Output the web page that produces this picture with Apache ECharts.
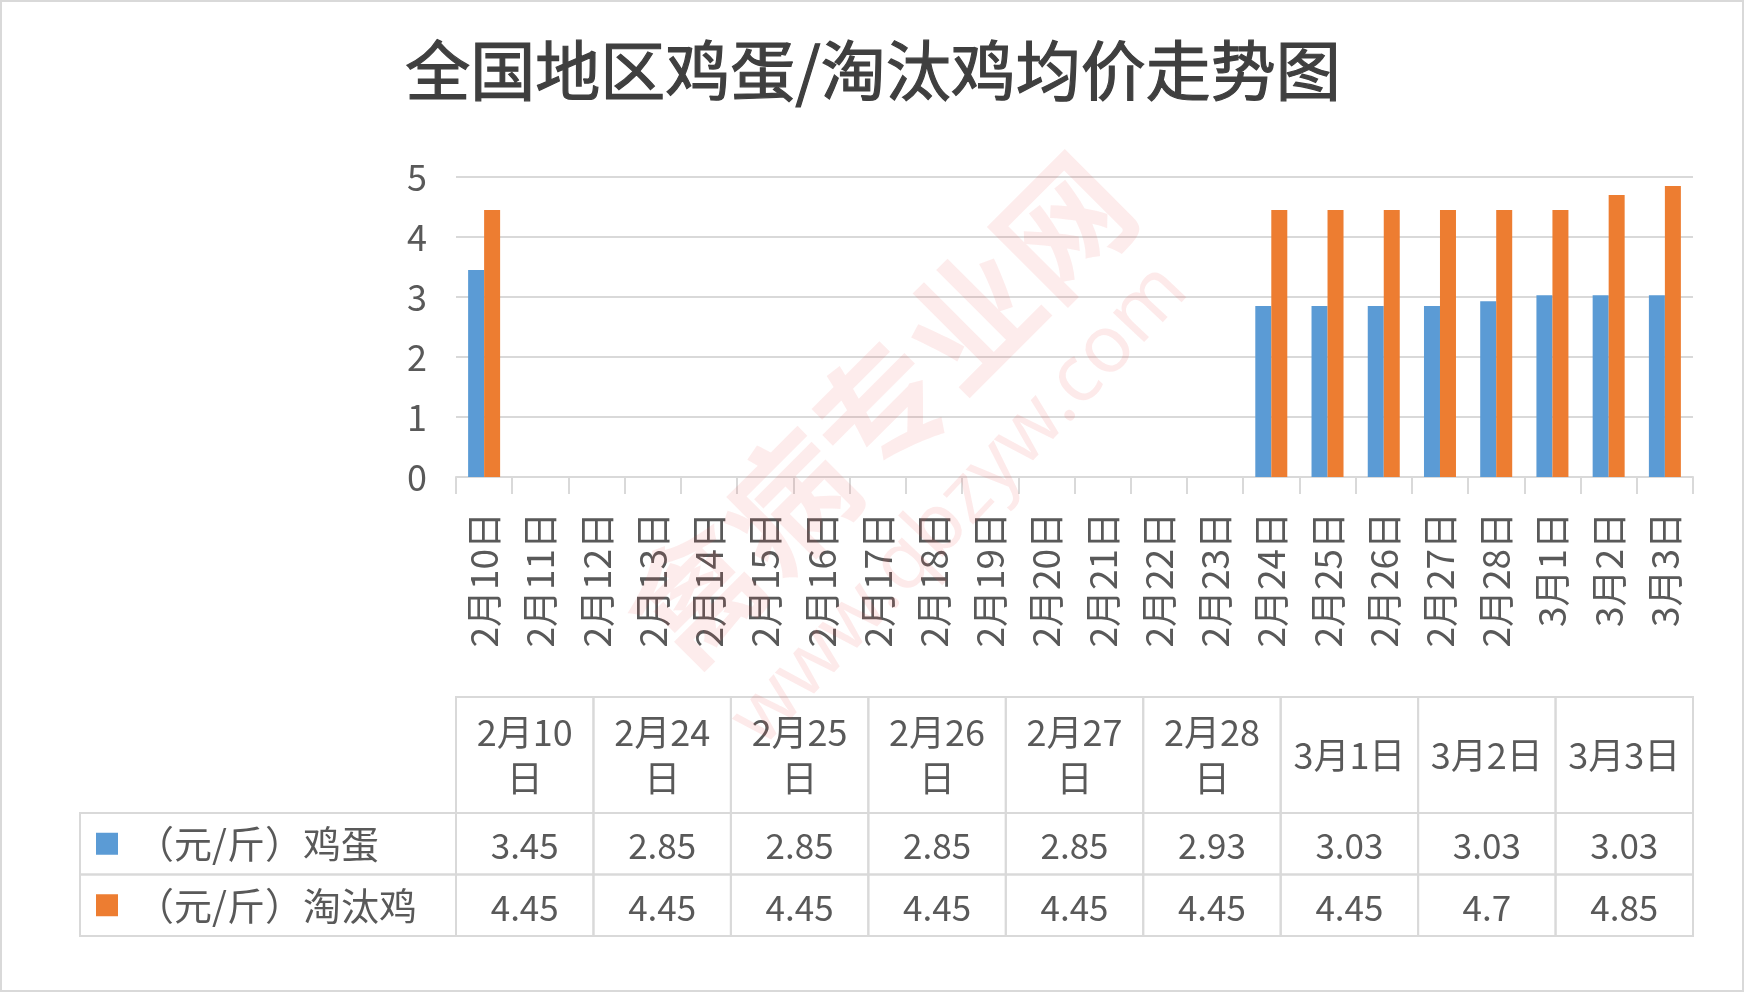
<!DOCTYPE html>
<html>
<head>
<meta charset="utf-8">
<title>全国地区鸡蛋/淘汰鸡均价走势图</title>
<script src="https://cdn.jsdelivr.net/npm/echarts@6/dist/echarts.min.js"></script>
<style>
  html, body { margin: 0; padding: 0; background: #fff; }
  #chart { width: 1746px; height: 994px; }
</style>
</head>
<body>
<div id="chart"></div>
<script>
// every day on the bar chart axis
const chartDays = [
  '2月10日', '2月11日', '2月12日', '2月13日', '2月14日', '2月15日', '2月16日',
  '2月17日', '2月18日', '2月19日', '2月20日', '2月21日', '2月22日', '2月23日',
  '2月24日', '2月25日', '2月26日', '2月27日', '2月28日', '3月1日', '3月2日', '3月3日'
];
// days with a price (the table columns)
const tableDays = ['2月10日', '2月24日', '2月25日', '2月26日', '2月27日', '2月28日', '3月1日', '3月2日', '3月3日'];
const eggPrice = [3.45, 2.85, 2.85, 2.85, 2.85, 2.93, 3.03, 3.03, 3.03];
const henPrice = [4.45, 4.45, 4.45, 4.45, 4.45, 4.45, 4.45, 4.7, 4.85];
const seriesNames = ['（元/斤）鸡蛋', '（元/斤）淘汰鸡'];
const yTicks = [0, 1, 2, 3, 4, 5];

const colors = ['#5B9BD5', '#ED7D31'];
const lineColor = '#D9D9D9';
const textColor = '#595959';
const font = 'Noto Sans CJK SC';
const headerHeight = 116;
const labelWidth = 376;

const rows = [eggPrice, henPrice];

// put the prices on the full day axis, empty where there is no price
const toDays = (values) => chartDays.map((d) => {
  const i = tableDays.indexOf(d);
  return i < 0 ? null : values[i];
});

const cellBox = (api, col, row) => {
  const c = api.coord([col, row]);
  const s = api.size([1, 1]);
  return { x: c[0] - s[0] / 2, y: c[1] - s[1] / 2, width: s[0], height: s[1] };
};

const border = { fill: 'none', stroke: lineColor, lineWidth: 2 };

const cellData = [];
rows.forEach((values, j) => {
  values.forEach((v, i) => cellData.push([i, j, v]));
});

const chart = echarts.init(document.getElementById('chart'));

chart.setOption({
  animation: false,
  backgroundColor: '#fff',
  textStyle: { fontFamily: font },
  title: {
    text: '全国地区鸡蛋/淘汰鸡均价走势图',
    left: 'center',
    top: 33,
    textStyle: {
      fontSize: 65,
      fontWeight: 'normal',
      color: '#3F3F3F',
      fontFamily: font,
      textBorderColor: '#3F3F3F',
      textBorderWidth: 1.2
    }
  },
  grid: [
    { left: 456, right: 53, top: 177, height: 300 },
    { left: 456, right: 53, top: 813, height: 123 }
  ],
  xAxis: [
    {
      type: 'category',
      data: chartDays,
      axisLine: { lineStyle: { color: lineColor, width: 2 } },
      axisTick: { show: true, length: 17, interval: 0, lineStyle: { color: lineColor, width: 2 } },
      axisLabel: { interval: 0, rotate: 90, margin: 35, fontSize: 37, color: textColor }
    },
    { type: 'category', gridIndex: 1, data: tableDays, show: false }
  ],
  yAxis: [
    {
      type: 'value',
      min: yTicks[0],
      max: yTicks[yTicks.length - 1],
      interval: yTicks[1] - yTicks[0],
      axisLine: { show: false },
      axisTick: { show: false },
      splitLine: { lineStyle: { color: lineColor, width: 2 } },
      axisLabel: { margin: 29, fontSize: 36, color: textColor }
    },
    { type: 'category', gridIndex: 1, data: seriesNames, inverse: true, show: false }
  ],
  series: [
    {
      name: seriesNames[0],
      type: 'bar',
      barWidth: 16,
      barGap: '0%',
      itemStyle: { color: colors[0] },
      data: toDays(eggPrice)
    },
    {
      name: seriesNames[1],
      type: 'bar',
      barWidth: 16,
      barGap: '0%',
      itemStyle: { color: colors[1] },
      data: toDays(henPrice)
    },
    {
      // table header: the dates
      type: 'custom',
      xAxisIndex: 1,
      yAxisIndex: 1,
      data: tableDays.map((d, i) => [i, 0]),
      renderItem: (params, api) => {
        const box = cellBox(api, api.value(0), 0);
        const y = box.y - headerHeight;
        return {
          type: 'group',
          children: [
            { type: 'rect', shape: { x: box.x, y: y, width: box.width, height: headerHeight }, style: border },
            {
              type: 'text',
              x: box.x + box.width / 2,
              y: y + headerHeight / 2,
              style: {
                text: tableDays[api.value(0)],
                width: 124,
                overflow: 'break',
                lineHeight: 46,
                align: 'center',
                verticalAlign: 'middle',
                fontSize: 36,
                fontFamily: font,
                fill: textColor
              }
            }
          ]
        };
      }
    },
    {
      // table row names with colour keys
      type: 'custom',
      xAxisIndex: 1,
      yAxisIndex: 1,
      data: seriesNames.map((n, j) => [0, j]),
      renderItem: (params, api) => {
        const j = api.value(1);
        const box = cellBox(api, 0, j);
        const x0 = box.x - labelWidth;
        const mid = box.y + box.height / 2;
        return {
          type: 'group',
          children: [
            { type: 'rect', shape: { x: x0, y: box.y, width: labelWidth, height: box.height }, style: border },
            { type: 'rect', shape: { x: x0 + 16, y: mid - 11, width: 22, height: 22 }, style: { fill: colors[j] } },
            {
              type: 'text',
              x: x0 + 56,
              y: mid,
              style: {
                text: seriesNames[j],
                align: 'left',
                verticalAlign: 'middle',
                fontSize: 38,
                fontFamily: font,
                fill: textColor
              }
            }
          ]
        };
      }
    },
    {
      // table values
      type: 'custom',
      xAxisIndex: 1,
      yAxisIndex: 1,
      data: cellData,
      renderItem: (params, api) => {
        const box = cellBox(api, api.value(0), api.value(1));
        return {
          type: 'group',
          children: [
            { type: 'rect', shape: box, style: border },
            {
              type: 'text',
              x: box.x + box.width / 2,
              y: box.y + box.height / 2 + 2,
              style: {
                text: String(api.value(2)),
                align: 'center',
                verticalAlign: 'middle',
                fontSize: 35,
                fontFamily: font,
                fill: textColor
              }
            }
          ]
        };
      }
    }
  ],
  graphic: [
    {
      type: 'rect',
      z: -10,
      shape: { x: 1, y: 1, width: 1742, height: 990 },
      style: { fill: 'none', stroke: lineColor, lineWidth: 2 }
    },
    {
      type: 'text',
      z: 100,
      x: 880,
      y: 410,
      rotation: Math.PI / 4,
      style: {
        text: '禽病专业网',
        align: 'center',
        verticalAlign: 'middle',
        fontSize: 130,
        fontWeight: 'bold',
        fontFamily: font,
        fill: 'rgba(235, 70, 70, 0.10)'
      }
    },
    {
      type: 'text',
      z: 100,
      x: 960,
      y: 505,
      rotation: Math.PI * 0.26,
      style: {
        text: 'www.qbzyw.com',
        align: 'center',
        verticalAlign: 'middle',
        fontSize: 80,
        fontFamily: 'Noto Sans',
        fill: 'rgba(235, 80, 80, 0.12)'
      }
    }
  ]
});
</script>
</body>
</html>
